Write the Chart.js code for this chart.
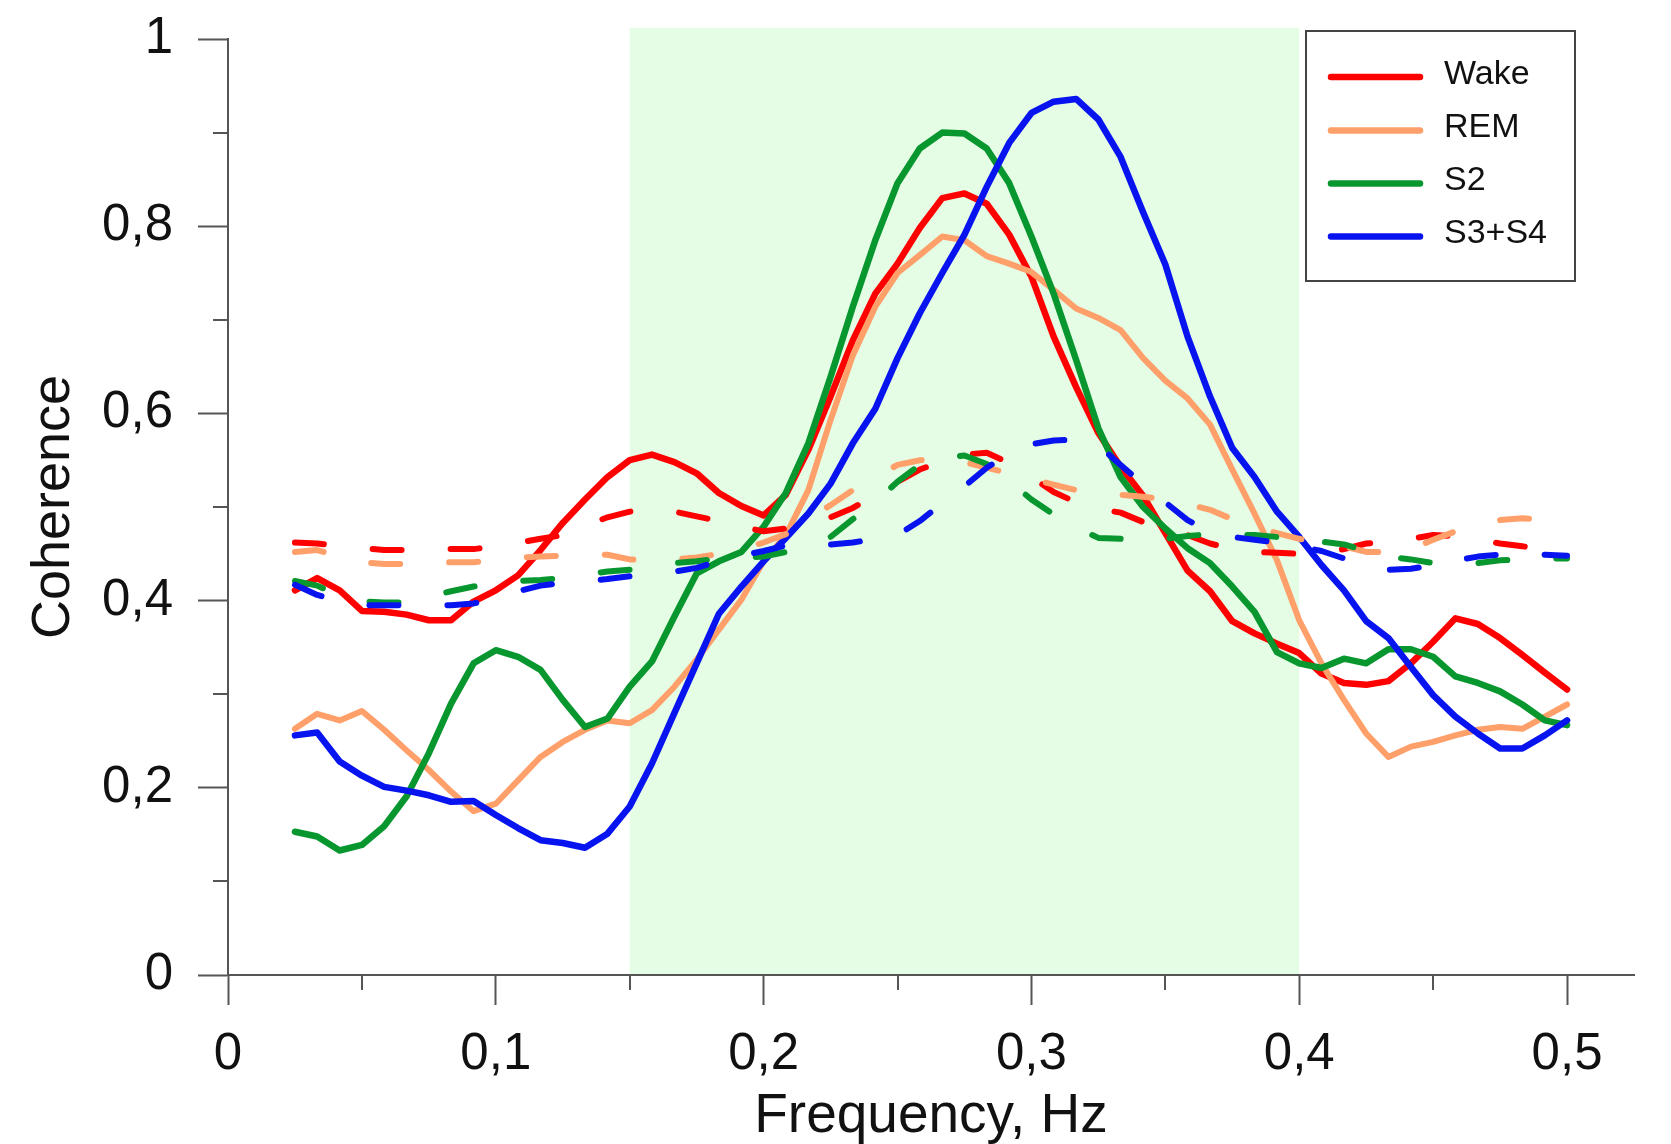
<!DOCTYPE html>
<html>
<head>
<meta charset="utf-8">
<title>Coherence</title>
<script src="https://cdn.jsdelivr.net/npm/chart.js@4.4.1/dist/chart.umd.min.js"></script>
<style>
    html, body { margin: 0; padding: 0; background: #ffffff; }
    canvas { display: block; }
</style>
</head>
<body>
<canvas id="myChart" width="1671" height="1144"></canvas>
<script>
var freq = [0.0250, 0.0333, 0.0417, 0.0500, 0.0583, 0.0667, 0.0750, 0.0833, 0.0917, 0.1000,
    0.1083, 0.1167, 0.1250, 0.1333, 0.1417, 0.1500, 0.1583, 0.1667, 0.1750, 0.1833,
    0.1917, 0.2000, 0.2083, 0.2167, 0.2250, 0.2333, 0.2417, 0.2500, 0.2583, 0.2667,
    0.2750, 0.2833, 0.2917, 0.3000, 0.3083, 0.3167, 0.3250, 0.3333, 0.3417, 0.3500,
    0.3583, 0.3667, 0.3750, 0.3833, 0.3917, 0.4000, 0.4083, 0.4167, 0.4250, 0.4333,
    0.4417, 0.4500, 0.4583, 0.4667, 0.4750, 0.4833, 0.4917, 0.5000];

// solid lines
var wake = [0.411, 0.424, 0.411, 0.389, 0.388, 0.385, 0.379, 0.379, 0.399, 0.411,
    0.427, 0.454, 0.483, 0.508, 0.532, 0.550, 0.556, 0.548, 0.536, 0.515,
    0.501, 0.491, 0.513, 0.561, 0.618, 0.678, 0.728, 0.760, 0.798, 0.830,
    0.835, 0.824, 0.791, 0.746, 0.682, 0.628, 0.579, 0.543, 0.512, 0.472,
    0.432, 0.410, 0.378, 0.365, 0.354, 0.344, 0.322, 0.312, 0.310, 0.314,
    0.333, 0.356, 0.381, 0.375, 0.360, 0.342, 0.323, 0.305];
var rem = [0.263, 0.279, 0.272, 0.282, 0.262, 0.240, 0.219, 0.196, 0.175, 0.183,
    0.208, 0.233, 0.249, 0.262, 0.272, 0.269, 0.283, 0.308, 0.337, 0.369,
    0.401, 0.442, 0.470, 0.518, 0.593, 0.662, 0.714, 0.750, 0.769, 0.789,
    0.785, 0.768, 0.760, 0.751, 0.732, 0.712, 0.702, 0.689, 0.659, 0.635,
    0.616, 0.588, 0.540, 0.493, 0.443, 0.379, 0.333, 0.294, 0.258, 0.233,
    0.244, 0.249, 0.256, 0.262, 0.265, 0.263, 0.276, 0.289];
var s2 = [0.153, 0.148, 0.133, 0.139, 0.159, 0.191, 0.237, 0.290, 0.333, 0.347,
    0.340, 0.326, 0.294, 0.265, 0.274, 0.308, 0.335, 0.383, 0.429, 0.442,
    0.452, 0.479, 0.515, 0.568, 0.639, 0.714, 0.785, 0.846, 0.883, 0.900,
    0.899, 0.883, 0.846, 0.789, 0.728, 0.657, 0.584, 0.532, 0.500, 0.477,
    0.456, 0.440, 0.415, 0.388, 0.345, 0.333, 0.328, 0.338, 0.333, 0.348,
    0.348, 0.340, 0.319, 0.312, 0.303, 0.289, 0.272, 0.267];
var s34 = [0.256, 0.259, 0.228, 0.213, 0.201, 0.197, 0.192, 0.185, 0.186, 0.171,
    0.157, 0.144, 0.141, 0.136, 0.151, 0.180, 0.226, 0.280, 0.333, 0.386,
    0.415, 0.442, 0.467, 0.493, 0.525, 0.568, 0.605, 0.659, 0.707, 0.750,
    0.791, 0.842, 0.889, 0.921, 0.933, 0.936, 0.914, 0.874, 0.815, 0.759,
    0.682, 0.618, 0.563, 0.532, 0.495, 0.468, 0.438, 0.411, 0.378, 0.360,
    0.329, 0.299, 0.276, 0.258, 0.242, 0.242, 0.256, 0.272];

// dashed lines
var wakeDash = [0.462, 0.461, 0.458, 0.456, 0.454, 0.454, 0.455, 0.455, 0.455, 0.458,
    0.462, 0.466, 0.470, 0.480, 0.489, 0.495, 0.497, 0.495, 0.490, 0.485,
    0.479, 0.474, 0.477, 0.482, 0.489, 0.499, 0.513, 0.527, 0.540, 0.549,
    0.556, 0.558, 0.547, 0.532, 0.516, 0.505, 0.498, 0.494, 0.484, 0.477,
    0.470, 0.461, 0.455, 0.452, 0.451, 0.450, 0.451, 0.455, 0.461, 0.463,
    0.466, 0.470, 0.469, 0.465, 0.461, 0.458, 0.455, 0.453];
var remDash = [0.452, 0.454, 0.447, 0.441, 0.439, 0.439, 0.440, 0.441, 0.441, 0.443,
    0.446, 0.447, 0.448, 0.449, 0.449, 0.444, 0.443, 0.444, 0.446, 0.450,
    0.455, 0.462, 0.471, 0.487, 0.502, 0.518, 0.532, 0.545, 0.550, 0.551,
    0.548, 0.542, 0.536, 0.530, 0.524, 0.518, 0.515, 0.513, 0.511, 0.508,
    0.503, 0.497, 0.487, 0.479, 0.472, 0.466, 0.462, 0.458, 0.452, 0.452,
    0.455, 0.465, 0.474, 0.482, 0.486, 0.488, 0.486, 0.485];
var s2Dash = [0.421, 0.416, 0.405, 0.399, 0.398, 0.398, 0.404, 0.410, 0.415, 0.419,
    0.421, 0.422, 0.424, 0.428, 0.431, 0.433, 0.437, 0.440, 0.442, 0.445,
    0.446, 0.447, 0.452, 0.460, 0.468, 0.487, 0.505, 0.527, 0.545, 0.553,
    0.555, 0.546, 0.528, 0.508, 0.492, 0.478, 0.467, 0.466, 0.465, 0.466,
    0.469, 0.471, 0.470, 0.470, 0.468, 0.465, 0.463, 0.460, 0.453, 0.447,
    0.444, 0.440, 0.438, 0.440, 0.443, 0.444, 0.445, 0.445];
var s34Dash = [0.417, 0.406, 0.399, 0.395, 0.395, 0.395, 0.395, 0.395, 0.397, 0.403,
    0.410, 0.416, 0.419, 0.421, 0.423, 0.426, 0.428, 0.431, 0.435, 0.442,
    0.448, 0.453, 0.459, 0.461, 0.460, 0.462, 0.466, 0.470, 0.485, 0.504,
    0.522, 0.542, 0.557, 0.567, 0.571, 0.572, 0.566, 0.545, 0.524, 0.505,
    0.486, 0.473, 0.468, 0.465, 0.462, 0.458, 0.453, 0.445, 0.437, 0.433,
    0.434, 0.438, 0.443, 0.447, 0.449, 0.450, 0.449, 0.448];

var names = ["Wake", "REM", "S2", "S3+S4"];
var colors = ["#ff0000", "#ff9f6a", "#08962f", "#0814f0"];
var band = [0.15, 0.40];

var fontFamily = "'Liberation Sans', Arial, sans-serif";
var axisColor = "#555555";

function points(values) {
    return values.map(function (v, i) {
        return { x: freq[i], y: v };
    });
}

function isMajor(value, step) {
    return Math.abs(Math.round(value / step) * step - value) < 1e-6;
}

function fmt(value) {
    if (Math.abs(value) < 1e-9) return "0";
    if (Math.abs(value - 1) < 1e-9) return "1";
    return value.toFixed(1).replace(".", ",");
}

function tickColor(step) {
    return function (ctx) {
        if (!ctx.tick) return axisColor;
        return isMajor(ctx.tick.value, step) ? axisColor : "rgba(0,0,0,0)";
    };
}

function solidSet(i, values) {
    return {
        label: names[i],
        data: points(values),
        borderColor: colors[i],
        borderWidth: i === 1 ? 6 : 6.5,
        borderJoinStyle: "round",
        borderCapStyle: "round",
        pointRadius: 0,
        tension: 0,
        order: 8 - i,
    };
}

function dashSet(i, values) {
    return {
        label: names[i] + " (dashed)",
        data: points(values),
        borderColor: colors[i],
        borderWidth: 6,
        borderDash: [29, 49],
        borderCapStyle: "round",
        borderJoinStyle: "round",
        pointRadius: 0,
        tension: 0,
        order: 4 - i,
    };
}

var extras = {
    id: "extras",
    beforeDraw: function (chart) {
        var c = chart.ctx;
        var xs = chart.scales.x;
        var ys = chart.scales.y;
        var x1 = xs.getPixelForValue(band[0]);
        var x2 = xs.getPixelForValue(band[1]);
        var y1 = ys.getPixelForValue(1.012);
        var y2 = ys.getPixelForValue(0);
        c.save();
        c.fillStyle = "#e5fde5";
        c.fillRect(x1, y1, x2 - x1, y2 - y1);
        c.restore();
    },
    afterDraw: function (chart) {
        var c = chart.ctx;
        var xs = chart.scales.x;
        var ys = chart.scales.y;
        var area = chart.chartArea;
        c.save();
        // minor ticks
        c.strokeStyle = axisColor;
        c.lineWidth = 2;
        c.beginPath();
        xs.ticks.forEach(function (t) {
            if (isMajor(t.value, 0.1)) return;
            var px = Math.round(xs.getPixelForValue(t.value));
            c.moveTo(px, area.bottom);
            c.lineTo(px, area.bottom + 15);
        });
        ys.ticks.forEach(function (t) {
            if (isMajor(t.value, 0.2)) return;
            var py = Math.round(ys.getPixelForValue(t.value));
            c.moveTo(area.left, py);
            c.lineTo(area.left - 15, py);
        });
        c.stroke();

        // legend box
        var bx = 1306, by = 31, bw = 269, bh = 250;
        c.fillStyle = "#ffffff";
        c.fillRect(bx, by, bw, bh);
        c.strokeStyle = "#444444";
        c.lineWidth = 2;
        c.strokeRect(bx, by, bw, bh);
        var rows = [77, 130.5, 183.5, 236.5];
        c.font = "34px " + fontFamily;
        c.textBaseline = "middle";
        c.textAlign = "left";
        c.lineCap = "round";
        for (var i = 0; i < names.length; i++) {
            c.strokeStyle = colors[i];
            c.lineWidth = 6.5;
            c.beginPath();
            c.moveTo(1331, rows[i]);
            c.lineTo(1420, rows[i]);
            c.stroke();
            c.fillStyle = "#111111";
            c.fillText(names[i], 1444, rows[i] - 2.5);
        }
        c.restore();
    },
};

document.addEventListener("DOMContentLoaded", function () {
    var ctx = document.getElementById("myChart").getContext("2d");
    var myChart = new Chart(ctx, {
        type: "line",
        data: {
            datasets: [
                solidSet(0, wake),
                solidSet(1, rem),
                solidSet(2, s2),
                solidSet(3, s34),
                dashSet(0, wakeDash),
                dashSet(1, remDash),
                dashSet(2, s2Dash),
                dashSet(3, s34Dash),
            ],
        },
        options: {
            responsive: false,
            animation: false,
            layout: {
                padding: { left: 0, right: 37, top: 39, bottom: 0 },
            },
            plugins: {
                legend: { display: false },
                tooltip: { enabled: false },
            },
            scales: {
                x: {
                    type: "linear",
                    min: 0,
                    max: 0.525,
                    border: { display: true, color: axisColor, width: 2 },
                    grid: {
                        drawOnChartArea: false,
                        drawTicks: true,
                        tickLength: 30,
                        tickWidth: 2,
                        tickColor: tickColor(0.1),
                    },
                    ticks: {
                        stepSize: 0.05,
                        includeBounds: false,
                        autoSkip: false,
                        maxRotation: 0,
                        padding: 19,
                        color: "#111111",
                        font: { family: fontFamily, size: 51 },
                        callback: function (value) {
                            return isMajor(value, 0.1) ? fmt(value) : "";
                        },
                    },
                    title: {
                        display: true,
                        text: "Frequency, Hz",
                        color: "#111111",
                        font: { family: fontFamily, size: 55, lineHeight: 0.9 },
                        padding: { top: 0, bottom: 2 },
                    },
                    afterFit: function (scale) {
                        scale.height = 169;
                        scale.paddingLeft = 0;
                        scale.paddingRight = 0;
                    },
                },
                y: {
                    type: "linear",
                    min: 0,
                    max: 1,
                    border: { display: true, color: axisColor, width: 2 },
                    grid: {
                        drawOnChartArea: false,
                        drawTicks: true,
                        tickLength: 30,
                        tickWidth: 2,
                        tickColor: tickColor(0.2),
                    },
                    ticks: {
                        stepSize: 0.1,
                        autoSkip: false,
                        padding: 25,
                        color: "#111111",
                        font: { family: fontFamily, size: 51 },
                        callback: function (value) {
                            return isMajor(value, 0.2) ? fmt(value) : "";
                        },
                    },
                    title: {
                        display: true,
                        text: "Coherence",
                        color: "#111111",
                        font: { family: fontFamily, size: 54, lineHeight: 1 },
                        padding: { top: 27, bottom: 0 },
                    },
                    afterFit: function (scale) {
                        scale.width = 228;
                        scale.paddingTop = 0;
                        scale.paddingBottom = 0;
                    },
                },
            },
        },
        plugins: [extras],
    });
});
</script>
</body>
</html>
